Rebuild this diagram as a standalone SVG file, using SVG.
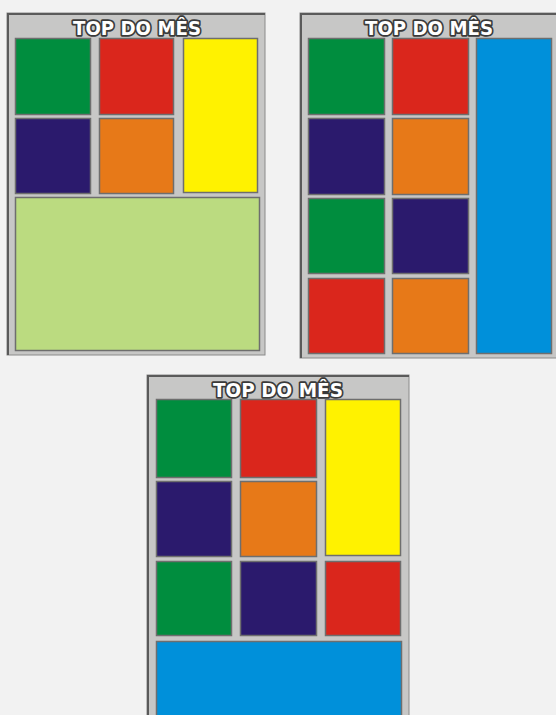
<svg xmlns="http://www.w3.org/2000/svg" width="556" height="715" viewBox="0 0 556 715">
<style>
.panel{fill:#c7c7c6;stroke:#8a8a8a;stroke-width:1}
.edge{stroke:#5a5a5a;stroke-width:2;fill:none}
.cell{stroke:#6e6e6e;stroke-width:1.5}
.title{font-family:"DejaVu Sans",sans-serif;font-weight:bold;font-size:19px;fill:#ffffff;stroke:#3a3a3a;stroke-width:3.5;paint-order:stroke;stroke-linejoin:round;text-anchor:middle}
.g{fill:#008d3e}.r{fill:#da261c}.y{fill:#fff200}.p{fill:#2b1a6d}.o{fill:#e77918}.lg{fill:#bbdb80}.b{fill:#0090da}
</style>
<rect width="556" height="715" fill="#f2f2f2"/>
<g id="panel1">
<rect class="panel" x="7" y="13" width="258" height="342"/>
<path class="edge" d="M8 355 V14 H265"/>
<text class="title" x="137" y="35" textLength="128" lengthAdjust="spacingAndGlyphs">TOP DO MÊS</text>
<rect class="cell g" x="15.5" y="38.5" width="75" height="76"/>
<rect class="cell r" x="99.5" y="38.5" width="74" height="76"/>
<rect class="cell y" x="183.5" y="38.5" width="74" height="154"/>
<rect class="cell p" x="15.5" y="118.5" width="75" height="75"/>
<rect class="cell o" x="99.5" y="118.5" width="74" height="75"/>
<rect class="cell lg" x="15.5" y="197.5" width="244" height="153"/>
</g>
<g id="panel2">
<rect class="panel" x="300" y="13" width="260" height="345"/>
<path class="edge" d="M301 358 V14 H560"/>
<text class="title" x="429" y="35" textLength="128" lengthAdjust="spacingAndGlyphs">TOP DO MÊS</text>
<rect class="cell g" x="308.5" y="38.5" width="76" height="76"/>
<rect class="cell r" x="392.5" y="38.5" width="76" height="76"/>
<rect class="cell b" x="476.5" y="38.5" width="75" height="315"/>
<rect class="cell p" x="308.5" y="118.5" width="76" height="76"/>
<rect class="cell o" x="392.5" y="118.5" width="76" height="76"/>
<rect class="cell g" x="308.5" y="198.5" width="76" height="75"/>
<rect class="cell p" x="392.5" y="198.5" width="76" height="75"/>
<rect class="cell r" x="308.5" y="278.5" width="76" height="75"/>
<rect class="cell o" x="392.5" y="278.5" width="76" height="75"/>
</g>
<g id="panel3">
<rect class="panel" x="147" y="375" width="262" height="345"/>
<path class="edge" d="M148 720 V376 H409"/>
<text class="title" x="278" y="397" textLength="130" lengthAdjust="spacingAndGlyphs">TOP DO MÊS</text>
<rect class="cell g" x="156.5" y="399.5" width="75" height="78"/>
<rect class="cell r" x="240.5" y="399.5" width="76" height="78"/>
<rect class="cell y" x="325.5" y="399.5" width="75" height="156"/>
<rect class="cell p" x="156.5" y="481.5" width="75" height="75"/>
<rect class="cell o" x="240.5" y="481.5" width="76" height="75"/>
<rect class="cell g" x="156.5" y="561.5" width="75" height="74"/>
<rect class="cell p" x="240.5" y="561.5" width="76" height="74"/>
<rect class="cell r" x="325.5" y="561.5" width="75" height="74"/>
<rect class="cell b" x="156.5" y="641.5" width="245" height="80"/>
</g>
</svg>
